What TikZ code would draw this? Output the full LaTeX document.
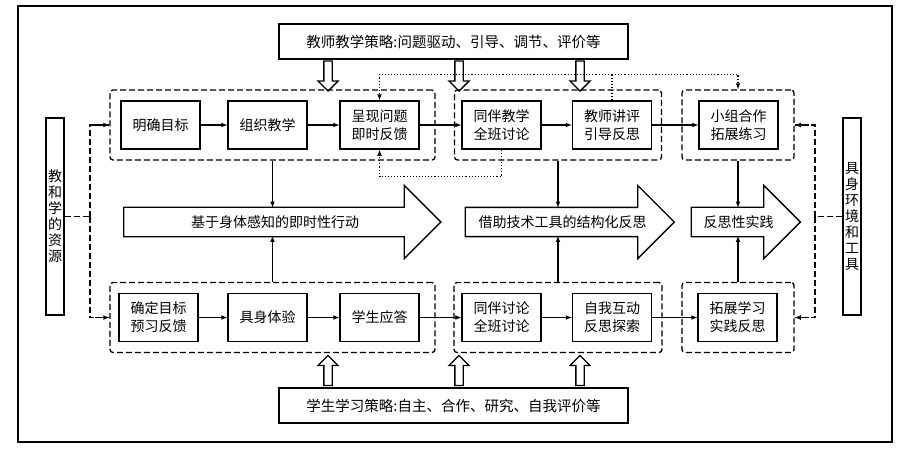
\documentclass[tikz,border=0pt]{standalone}
\usepackage{fontspec}
\newfontfamily\cjk{Noto Sans CJK SC}
\usepackage{tikz}
\usetikzlibrary{positioning,arrows,shapes,calc}

\begin{document}
\begin{tikzpicture}[
    x=1pt, y=-1pt,
    every path/.style={line width=1.1pt},
    box/.style={rectangle, draw, line width=1.3pt, minimum width=79pt, minimum height=48pt, align=center, font=\cjk\fontsize{14}{18}\selectfont, inner sep=1pt},
    group/.style={rectangle, draw, line width=1.3pt, dash pattern=on 6pt off 3pt, rounded corners=3pt, minimum height=70pt},
    strategy/.style={rectangle, draw, line width=1.3pt, minimum width=349pt, minimum height=35pt, font=\cjk\fontsize{14.5}{17}\selectfont},
    side/.style={rectangle, draw, line width=1.3pt, minimum height=197pt, inner sep=2pt, align=center, font=\cjk\fontsize{14}{16}\selectfont},
    hollow/.style={single arrow, draw, line width=1.3pt, minimum width=19pt, minimum height=30pt, inner sep=3.5pt, single arrow head extend=6pt},
    bigarrow/.style={single arrow, draw, line width=1.3pt, minimum width=73pt, inner ysep=7.5pt, inner xsep=2pt, single arrow head extend=22pt, font=\cjk\fontsize{14}{16}\selectfont},
    arrow/.style={->, >=latex},
    dline/.style={dash pattern=on 6pt off 3pt},
    dot/.style={dotted}
]
\useasboundingbox (0,0) rectangle (923,464);

% Frame
\draw[line width=1.3pt] (18,6) rectangle (892,442);

% Strategies
\node[strategy] (teach) at (453.5,41.5) {教师教学策略:问题驱动、引导、调节、评价等};
\node[strategy] (learn) at (453.5,405.5) {学生学习策略:自主、合作、研究、自我评价等};

% Resources
\node[side] (res) at (55,216.5) {教\\和\\学\\的\\资\\源};
\node[side] (env) at (852,216.5) {具\\身\\环\\境\\和\\工\\具};

% Upper groups
\node[group, minimum width=325pt] (g1top) at (272.5,125) {};
\node[group, minimum width=207pt] (g2top) at (558,125) {};
\node[group, minimum width=112pt] (g3top) at (738,125) {};

\node[box] (goal) at (160.5,125) {明确目标};
\node[box] (organize) at (267.5,125) {组织教学};
\node[box] (present) at (379.5,125) {呈现问题\\即时反馈};
\node[box] (peer) at (501.5,125) {同伴教学\\全班讨论};
\node[box] (comment) at (612,125) {教师讲评\\引导反思};
\node[box] (team) at (738.5,125) {小组合作\\拓展练习};

% Lower groups
\node[group, minimum width=325pt] (g1bot) at (272.5,317.5) {};
\node[group, minimum width=208pt] (g2bot) at (558,317.5) {};
\node[group, minimum width=112pt] (g3bot) at (738,317.5) {};

\node[box] (preview) at (158.5,317.5) {确定目标\\预习反馈};
\node[box] (embody) at (267.5,317.5) {具身体验};
\node[box] (answer) at (379.5,317.5) {学生应答};
\node[box] (discuss) at (501.5,317.5) {同伴讨论\\全班讨论};
\node[box] (explore) at (612,317.5) {自我互动\\反思探索};
\node[box] (practice) at (737.5,317.5) {拓展学习\\实践反思};

% Big arrows
\node[bigarrow, minimum height=317pt] (act1) at (275,222) {基于身体感知的即时性行动};
\node[bigarrow, minimum height=209pt] (act2) at (562.5,222) {借助技术工具的结构化反思};
\node[bigarrow, minimum height=109pt] (act3) at (738.5,222) {反思性实践};

% Hollow arrows
\foreach \x/\n in {328/a,459/b,580/c}{
  \node[hollow, rotate=-90] (down\n) at (\x,74) {};
  \node[hollow, rotate=90] (up\n) at (\x,372.5) {};
}

% Arrows
\draw[arrow] (goal) -- (organize);
\draw[arrow] (organize) -- (present);
\draw[arrow] (present) -- (peer);
\draw[arrow] (peer) -- (comment);
\draw[arrow] (comment) -- (team);
\draw[arrow] (preview) -- (embody);
\draw[arrow] (embody) -- (answer);
\draw[arrow] (answer) -- (discuss);
\draw[arrow] (discuss) -- (explore);
\draw[arrow] (explore) -- (practice);
\draw[arrow] (g1top.south) -- ++(0,47);
\draw[arrow] (g2top.south) -- ++(0,47);
\draw[arrow] (g3top.south) -- ++(0,47);
\draw[arrow] (g1bot.north) -- ++(0,-46);
\draw[arrow] (g2bot.north) -- ++(0,-46);
\draw[arrow] (g3bot.north) -- ++(0,-46);

% Resource links
\coordinate (lmid) at (90,216.5);
\coordinate (rmid) at (815,216.5);
\draw[dline] (res) -- (lmid);
\draw[dline] (env) -- (rmid);
\draw[dline] (lmid) |- (g1top.west);
\draw[dline] (lmid) |- (g1bot.west);
\draw[dline] (rmid) |- (g3top.east);
\draw[dline] (rmid) |- (g3bot.east);
\draw[arrow] ($(g1top.west)+(-14,0)$) -- (g1top.west);
\draw[arrow] ($(g1bot.west)+(-14,0)$) -- (g1bot.west);
\draw[arrow] ($(g3top.east)+(14,0)$) -- (g3top.east);
\draw[arrow] ($(g3bot.east)+(14,0)$) -- (g3bot.east);

% Feedback
\coordinate (fb) at ($(comment.north)+(0,-26)$);
\draw[dot] (comment.north) -- (fb);
\draw[dot, arrow] (fb) -| (present.north);
\draw[dot, arrow] (fb) -| (g3top.north);
\draw[dot, arrow] (peer.south) -- ++(0,27) -| (present.south);

\end{tikzpicture}
\end{document}
